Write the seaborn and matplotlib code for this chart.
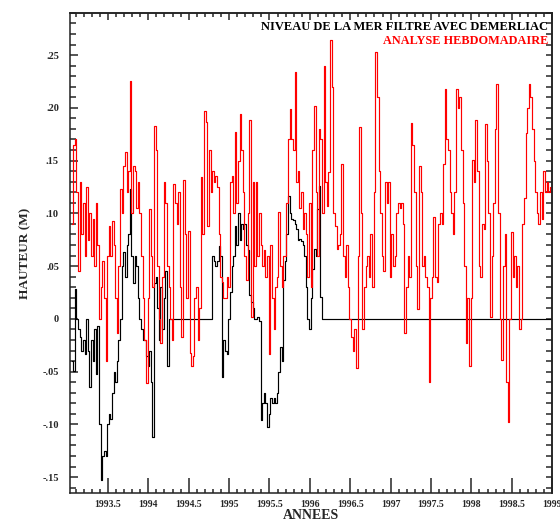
import numpy as np
import pandas as pd
import seaborn as sns
import matplotlib.pyplot as plt
from matplotlib.ticker import FixedLocator, MultipleLocator

# weekly-ish sampling, step 0.02 yr, starting 1993.06
t_start = 1993.06
t_step = 0.02

red_vals = [
    0.09, 0.165, 0.17, 0.12, 0.045,
    0.13, 0.08, 0.11, 0.06, 0.125,
    0.075, 0.10, 0.06, 0.095, 0.05,
    0.11, 0.07, 0.00, 0.03, 0.055,
    0.02, -0.04, 0.06, 0.088, 0.06,
    0.093, 0.07, 0.02, -0.013, 0.05,
    0.123, 0.10, 0.145, 0.158, 0.12,
    0.14, 0.225, 0.10, 0.145, 0.14,
    0.105, 0.13, 0.10, 0.06, 0.02,
    -0.02, -0.061, 0.02, 0.104, 0.06,
    0.03, 0.183, 0.16, 0.05, 0.0,
    -0.023, 0.04, 0.13, 0.11, 0.05,
    0.03, 0.0, -0.02, 0.128, 0.11,
    0.09, 0.12, 0.03, -0.017, 0.132,
    0.08, 0.02, 0.083, -0.032, -0.045,
    -0.035, 0.02, 0.03, -0.02, 0.01,
    0.134, 0.08, 0.197, 0.187, 0.088,
    0.16, 0.12, 0.14, 0.13, 0.135,
    0.125, 0.08, 0.04, 0.035, 0.02,
    0.02, 0.04, 0.03, 0.13, 0.135,
    0.10, 0.177, 0.11, 0.15, 0.194,
    0.16, 0.12, 0.06, 0.037, 0.10,
    0.188, 0.002, 0.13, 0.05, 0.13,
    0.06, 0.10, 0.07, 0.05, 0.065,
    0.04, 0.06, -0.033, 0.07, 0.02,
    -0.01, 0.03, 0.04, 0.101, 0.05,
    0.03, 0.06, 0.06, 0.11, 0.17,
    0.199, 0.17, 0.16, 0.234, 0.13,
    0.14, 0.105, 0.12, 0.085, 0.10,
    0.08, 0.04, 0.11, 0.03, 0.16,
    0.202, 0.12, 0.06, 0.18, 0.17,
    0.10, 0.24, 0.13, 0.107, 0.139,
    0.264, 0.22, 0.10, 0.088, 0.066,
    0.07, 0.08, 0.147, 0.06, 0.04,
    0.07, 0.03, 0.0, -0.017, -0.03,
    -0.01, -0.047, 0.06, 0.182, 0.10,
    -0.01, 0.03, 0.05, 0.06, 0.04,
    0.08, 0.03, 0.12, 0.253, 0.21,
    0.14, 0.10, 0.06, 0.045, 0.13,
    0.11, 0.13, 0.04, 0.08, 0.05,
    0.06, 0.10, 0.11, 0.105, 0.11,
    0.09, -0.013, 0.03, 0.06, 0.04,
    0.186, 0.165, 0.12, 0.05, 0.009,
    0.145, 0.12, 0.05, 0.06, 0.04,
    0.03, -0.06, 0.02, 0.04, 0.097,
    0.04, 0.035, 0.09, 0.10, 0.09,
    0.147, 0.218, 0.17, 0.16, 0.12,
    0.10, 0.08, 0.12, 0.218, 0.20,
    0.21, 0.16, 0.11, 0.05, -0.023,
    0.02, -0.045, 0.02, 0.151, 0.13,
    0.188, 0.14, 0.05, 0.04, 0.09,
    0.085, 0.185, 0.15, 0.10, 0.002,
    0.06, 0.11, 0.18, 0.223, 0.10,
    0.0, -0.039, 0.05, 0.08, -0.06,
    -0.098, 0.0, 0.082, 0.04, 0.06,
    0.03, 0.05, -0.01, 0.0, 0.09,
    0.115, 0.176, 0.20, 0.223, 0.21,
    0.18, 0.15, 0.12, 0.10, 0.09,
    0.12, 0.095, 0.14, 0.12, 0.13,
    0.12, 0.125,
]

black_vals = [
    -0.04, -0.049, 0.028, 0.0, -0.01,
    -0.017, -0.03, -0.02, -0.033, 0.0,
    -0.03, -0.065, -0.02, -0.04, -0.01,
    -0.052, -0.007, -0.10, -0.153, -0.13,
    -0.125, -0.13, -0.10, -0.09, -0.095,
    -0.07, -0.05, -0.06, -0.04, -0.02,
    0.0, 0.05, 0.063, 0.04, 0.07,
    0.08, 0.123, 0.06, 0.034, 0.06,
    0.05, 0.02, 0.0, -0.01, -0.02,
    -0.02, -0.035, -0.045, -0.03, -0.06,
    -0.112, 0.034, 0.04, 0.01, -0.02,
    0.03, -0.01, 0.02, 0.045, -0.045,
    0.0, 0.0, 0.0, 0.0, 0.0,
    0.0, 0.0, 0.0, 0.0, 0.0,
    0.0, 0.0, 0.0, 0.0, 0.0,
    0.0, 0.0, 0.0, 0.0, 0.0,
    0.0, 0.0, 0.0, 0.0, 0.0,
    0.0, 0.0, 0.06, 0.055, 0.05,
    0.055, 0.069, 0.06, -0.055, -0.02,
    -0.03, -0.033, 0.0, 0.025, 0.05,
    0.06, 0.088, 0.07, 0.10, 0.075,
    0.09, 0.085, 0.09, 0.07, 0.065,
    0.023, 0.016, 0.01, 0.0, 0.0,
    0.002, -0.002, -0.096, -0.08, -0.07,
    -0.08, -0.102, -0.09, -0.075, -0.08,
    -0.075, -0.08, -0.07, -0.05, -0.027,
    -0.04, 0.037, 0.055, 0.08, 0.116,
    0.10, 0.095, 0.094, 0.09, 0.085,
    0.075, 0.076, 0.074, 0.07, 0.06,
    0.03, 0.0, -0.01, 0.02, 0.047,
    0.066, 0.06, 0.104, 0.126, 0.021,
    0.0,
]
# after the last black sample the series stays at 0 up to the end
black_end_year = 1999.0
black_end_val = 0.0

xticks = [1993.5, 1994, 1994.5, 1995, 1995.5, 1996, 1996.5, 1997, 1997.5, 1998, 1998.5, 1999]
xticklabels = ['1993.5', '1994', '1994.5', '1995', '1995.5', '1996', '1996.5',
               '1997', '1997.5', '1998', '1998.5', '1999']
yticks = [-0.15, -0.10, -0.05, 0, 0.05, 0.10, 0.15, 0.20, 0.25]
yticklabels = ['-.15', '-.10', '-.05', '0', '.05', '.10', '.15', '.20', '.25']

red_years = t_start + t_step * np.arange(len(red_vals))
black_years = np.append(t_start + t_step * np.arange(len(black_vals)), black_end_year)
black_all = np.append(black_vals, black_end_val)

df_red = pd.DataFrame({'annee': red_years, 'hauteur': red_vals})
df_black = pd.DataFrame({'annee': black_years, 'hauteur': black_all})

sns.set_style('white')
plt.rcParams['font.family'] = ['Liberation Serif', 'DejaVu Serif']
plt.rcParams['font.weight'] = 'bold'

fig = plt.figure(figsize=(5.6, 5.23), dpi=100)
ax = fig.add_axes([0.125, 0.0574, 0.861, 0.918])

sns.lineplot(data=df_black, x='annee', y='hauteur', ax=ax, color='black',
             linewidth=0.85, estimator=None, sort=False, drawstyle='steps-mid')
sns.lineplot(data=df_red, x='annee', y='hauteur', ax=ax, color='#ff0000',
             linewidth=0.85, estimator=None, sort=False, drawstyle='steps-mid')

ax.set_xlim(1993.03, 1999.0)
ax.set_ylim(-0.165, 0.29)

ax.xaxis.set_major_locator(FixedLocator(xticks))
ax.set_xticklabels(xticklabels, fontsize=7, fontweight='bold')
ax.xaxis.set_minor_locator(MultipleLocator(0.1))
ax.yaxis.set_major_locator(FixedLocator(yticks))
ax.set_yticklabels(yticklabels, fontsize=7.5, fontweight='bold')
ax.yaxis.set_minor_locator(MultipleLocator(0.01))

ax.tick_params(axis='x', which='major', direction='in', length=10.8, width=1.1, pad=5,
               bottom=True, top=False)
ax.tick_params(axis='x', which='minor', direction='in', length=3, width=1.1,
               bottom=True, top=False)
ax.tick_params(axis='y', which='major', direction='in', length=6, width=1.1, pad=8,
               left=True, right=False)
ax.tick_params(axis='y', which='minor', direction='in', length=4.3, width=1.1,
               left=True, right=False)

top = ax.secondary_xaxis('top')
top.xaxis.set_major_locator(FixedLocator(xticks))
top.xaxis.set_minor_locator(MultipleLocator(0.1))
top.tick_params(which='major', direction='in', length=5, width=1.1, labeltop=False)
top.tick_params(which='minor', direction='in', length=3, width=1.1)
right = ax.secondary_yaxis('right')
right.yaxis.set_major_locator(FixedLocator(yticks))
right.yaxis.set_minor_locator(MultipleLocator(0.01))
right.tick_params(which='both', direction='in', length=4.3, width=1.1, labelright=False)

for sp in list(ax.spines.values()) + list(top.spines.values()) + list(right.spines.values()):
    sp.set_linewidth(1.1)
    sp.set_color('#222222')

ax.set_xlabel('ANNEES', fontsize=10, fontweight='bold', labelpad=0)
ax.set_ylabel('HAUTEUR (M)', fontsize=9.5, fontweight='bold', labelpad=8)

ax.text(0.992, 0.984, 'NIVEAU DE LA MER FILTRE AVEC DEMERLIAC', transform=ax.transAxes,
        ha='right', va='top', fontsize=9, fontweight='bold', color='black')
ax.text(0.992, 0.953, 'ANALYSE HEBDOMADAIRE', transform=ax.transAxes,
        ha='right', va='top', fontsize=8.8, fontweight='bold', color='#ff0000')

fig.savefig('out.png', dpi=100)
